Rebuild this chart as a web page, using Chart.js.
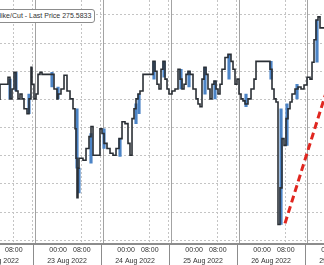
<!DOCTYPE html>
<html><head><meta charset="utf-8">
<script src="https://cdn.jsdelivr.net/npm/chart.js@4.4.0/dist/chart.umd.min.js"></script>
<style>
html,body{margin:0;padding:0;width:324px;height:265px;overflow:hidden;background:#fff;}
#wrap{position:absolute;left:-40px;top:0;width:424px;height:265px;}
#legend{position:absolute;left:-8px;top:9px;height:12px;line-height:12px;padding:0 3px;border:1px solid #8c8c8c;border-radius:3px;background:#fff;font-family:'Liberation Sans',Arial,sans-serif;font-size:7px;color:#333;white-space:nowrap;}
</style></head><body>
<div id="wrap"><canvas id="c"></canvas></div>
<div id="legend">Hike/Cut - Last Price 275.5833</div>
<script>
// Sessions (trading days) and axis tick labels
const sessionDates = ['22 Aug 2022','23 Aug 2022','24 Aug 2022','25 Aug 2022','26 Aug 2022','29 Aug 2022'];
const sessionHours = 23;               // hours in one trading session
const timeTickLabels = ['00:00','08:00'];
const timeTickHours = [8.5, 16.5];     // hours after session start
const yTicks = [268,269,270,271,272,273,274,275,276];

// Hike/Cut series: session-hours since 22 Aug session start, price
const times = [11.84,14.55,15.22,15.90,16.58,17.25,17.93,18.60,19.28,19.96,20.97,21.65,22.32,22.66,23.34,24.02,24.69,25.37,26.05,30.11,31.12,31.46,32.47,33.49,34.50,35.52,36.53,37.21,37.55,37.88,38.22,38.56,39.91,40.93,41.94,42.62,43.30,45.66,46.34,47.02,48.03,49.05,50.06,51.08,52.09,53.11,54.12,55.13,55.81,56.49,57.16,57.84,58.52,59.19,60.21,63.59,64.27,64.94,65.62,66.30,66.97,67.65,68.33,69.00,70.02,71.03,72.05,72.72,73.40,74.08,74.75,75.43,76.11,77.12,78.14,78.81,79.49,80.16,80.84,81.52,82.19,82.87,83.55,84.22,84.90,85.58,86.25,86.93,87.94,88.96,89.97,90.65,91.33,92.00,92.68,93.36,94.03,94.71,95.72,96.74,97.75,98.43,103.16,103.84,104.52,105.19,105.87,106.55,107.22,107.90,108.58,109.25,109.93,110.61,111.62,112.64,113.65,114.67,115.68,116.69,117.37,118.05,118.72,119.40,120.08,120.75,121.80];
const prices = [272.98,273.54,273.79,273.02,273.37,273.96,273.30,273.02,273.19,273.02,272.67,272.49,273.02,274.14,273.54,273.02,273.19,273.89,273.96,273.89,273.37,273.02,273.19,273.37,273.86,273.30,273.02,272.67,271.96,270.91,269.51,270.56,270.91,270.84,271.26,271.68,272.04,271.02,271.96,271.79,271.44,271.26,271.09,271.02,271.26,271.61,272.21,272.14,271.44,271.02,272.32,272.67,273.02,273.19,273.30,273.89,274.35,274.00,273.54,273.37,274.07,274.35,273.72,273.37,273.19,273.30,273.37,274.07,273.72,273.37,273.54,273.89,274.00,273.89,273.37,273.02,272.84,272.74,273.72,274.14,273.89,273.37,273.02,273.54,273.65,273.37,273.19,273.54,274.07,274.49,274.60,274.35,274.07,273.54,273.72,273.19,273.02,272.95,272.84,273.02,273.37,273.72,274.35,274.07,273.37,273.02,272.91,268.56,269.86,271.61,271.37,272.32,272.67,272.91,273.19,273.37,273.44,273.37,273.51,273.79,273.72,274.32,275.12,275.82,275.93,275.54,275.54];

// Blue bar ranges
const candleTimes = [15.22,17.25,21.65,29.43,31.46,37.88,38.56,42.62,47.02,52.43,57.84,58.86,63.93,67.31,73.06,75.77,81.18,84.56,89.30,95.05,103.50,106.89,108.91,112.30,119.06];
const candleLow  = [273.02,273.30,272.49,273.44,273.02,270.56,269.68,270.74,271.26,270.98,272.14,272.49,273.72,273.79,273.37,273.44,273.19,273.02,273.72,272.74,273.72,268.56,271.37,273.02,274.32];
const candleHigh = [273.72,273.96,273.19,273.96,273.44,272.67,270.56,271.79,271.96,271.61,272.84,273.19,274.35,274.35,274.07,274.00,274.14,273.65,274.60,273.19,274.35,272.67,272.84,273.54,275.82];

// Red dashed annotation line
const arrowTimes = [108.24, 124.81];
const arrowPrices = [268.60, 274.14];

const xMin = -1.69, xMax = 141.72, yMin = 267.86, yMax = 276.53;

const nS = sessionDates.length;
const timeTicks = [], boundaryTicks = [], dateTicks = [];
for (let k = 0; k < nS; k++) {
  timeTickHours.forEach(h => timeTicks.push(k * sessionHours + h));
  dateTicks.push(k * sessionHours + sessionHours / 2);
}
for (let k = 0; k <= nS; k++) boundaryTicks.push(k * sessionHours);
const eightTicks = timeTicks.filter((v, i) => i % 2 === 1);
const inRange = v => v >= xMin && v <= xMax;
const setTicks = arr => s => { s.ticks = arr.filter(inRange).map(v => ({value: v})); };
const timeIdx = v => { const off = ((v % sessionHours) + sessionHours) % sessionHours; return timeTickHours.findIndex(h => Math.abs(h - off) < 0.01); };

const separators = {
  id: 'sep',
  afterDraw(chart) {
    const s = chart.scales.x, a = chart.chartArea, ctx = chart.ctx;
    ctx.save();
    ctx.strokeStyle = '#8c8c8c'; ctx.lineWidth = 1;
    boundaryTicks.filter(inRange).forEach(b => {
      const p = Math.round(s.getPixelForValue(b)) + 0.5;
      ctx.beginPath(); ctx.moveTo(p, a.bottom); ctx.lineTo(p, chart.height); ctx.stroke();
    });
    ctx.restore();
  }
};

Chart.defaults.font.family = "'Liberation Sans', Arial, sans-serif";
Chart.defaults.font.size = 7;
Chart.defaults.color = '#333';

new Chart(document.getElementById('c'), {
  type: 'line',
  data: {
    datasets: [
      {
        type: 'line', order: 0,
        data: arrowTimes.map((t, i) => ({x: t, y: arrowPrices[i]})),
        borderColor: '#e0261f', borderWidth: 3, borderDash: [7, 4], pointRadius: 0
      },
      {
        type: 'line', order: 1,
        data: times.map((t, i) => ({x: t, y: prices[i]})),
        stepped: 'after', borderColor: '#2a2f35', borderWidth: 1.6, pointRadius: 0
      },
      {
        type: 'bar', order: 2,
        data: candleTimes.map((t, i) => ({x: t, y: [candleLow[i], candleHigh[i]]})),
        backgroundColor: '#4c84c6', barThickness: 2.5, grouped: false
      }
    ]
  },
  options: {
    responsive: true, maintainAspectRatio: false, animation: false, events: [],
    layout: {padding: 0},
    plugins: {legend: {display: false}, tooltip: {enabled: false}},
    scales: {
      x: {
        type: 'linear', position: 'bottom', weight: 0, min: xMin, max: xMax, offset: false,
        afterBuildTicks: setTicks(timeTicks),
        grid: {drawTicks: false, lineWidth: 1, color: c => (c.tick && timeIdx(c.tick.value) === 0) ? '#a3a3a3' : 'rgba(0,0,0,0)'},
        border: {display: true, color: '#8c8c8c', width: 2},
        ticks: {autoSkip: false, maxRotation: 0, padding: 2, callback: v => timeTickLabels[timeIdx(v)]}
      },
      xDate: {
        type: 'linear', position: 'bottom', weight: 1, min: xMin, max: xMax, offset: false,
        afterBuildTicks: setTicks(dateTicks),
        grid: {display: false, drawTicks: false},
        border: {display: false},
        ticks: {autoSkip: false, maxRotation: 0, padding: 0, callback: v => sessionDates[Math.round((v - sessionHours / 2) / sessionHours)]}
      },
      xDot: {
        type: 'linear', position: 'top', min: xMin, max: xMax, offset: false,
        afterBuildTicks: setTicks(boundaryTicks.concat(eightTicks)),
        grid: {drawTicks: false, color: '#c4c4c4', lineWidth: 1},
        border: {display: false, dash: [2, 2]},
        ticks: {display: false}
      },
      y: {
        type: 'linear', min: yMin, max: yMax,
        afterBuildTicks: s => { s.ticks = yTicks.map(v => ({value: v})); },
        grid: {drawTicks: false, color: '#c4c4c4', lineWidth: 1},
        border: {display: false, dash: [2, 2]},
        ticks: {display: false}
      }
    }
  },
  plugins: [separators]
});
</script>
</body></html>
